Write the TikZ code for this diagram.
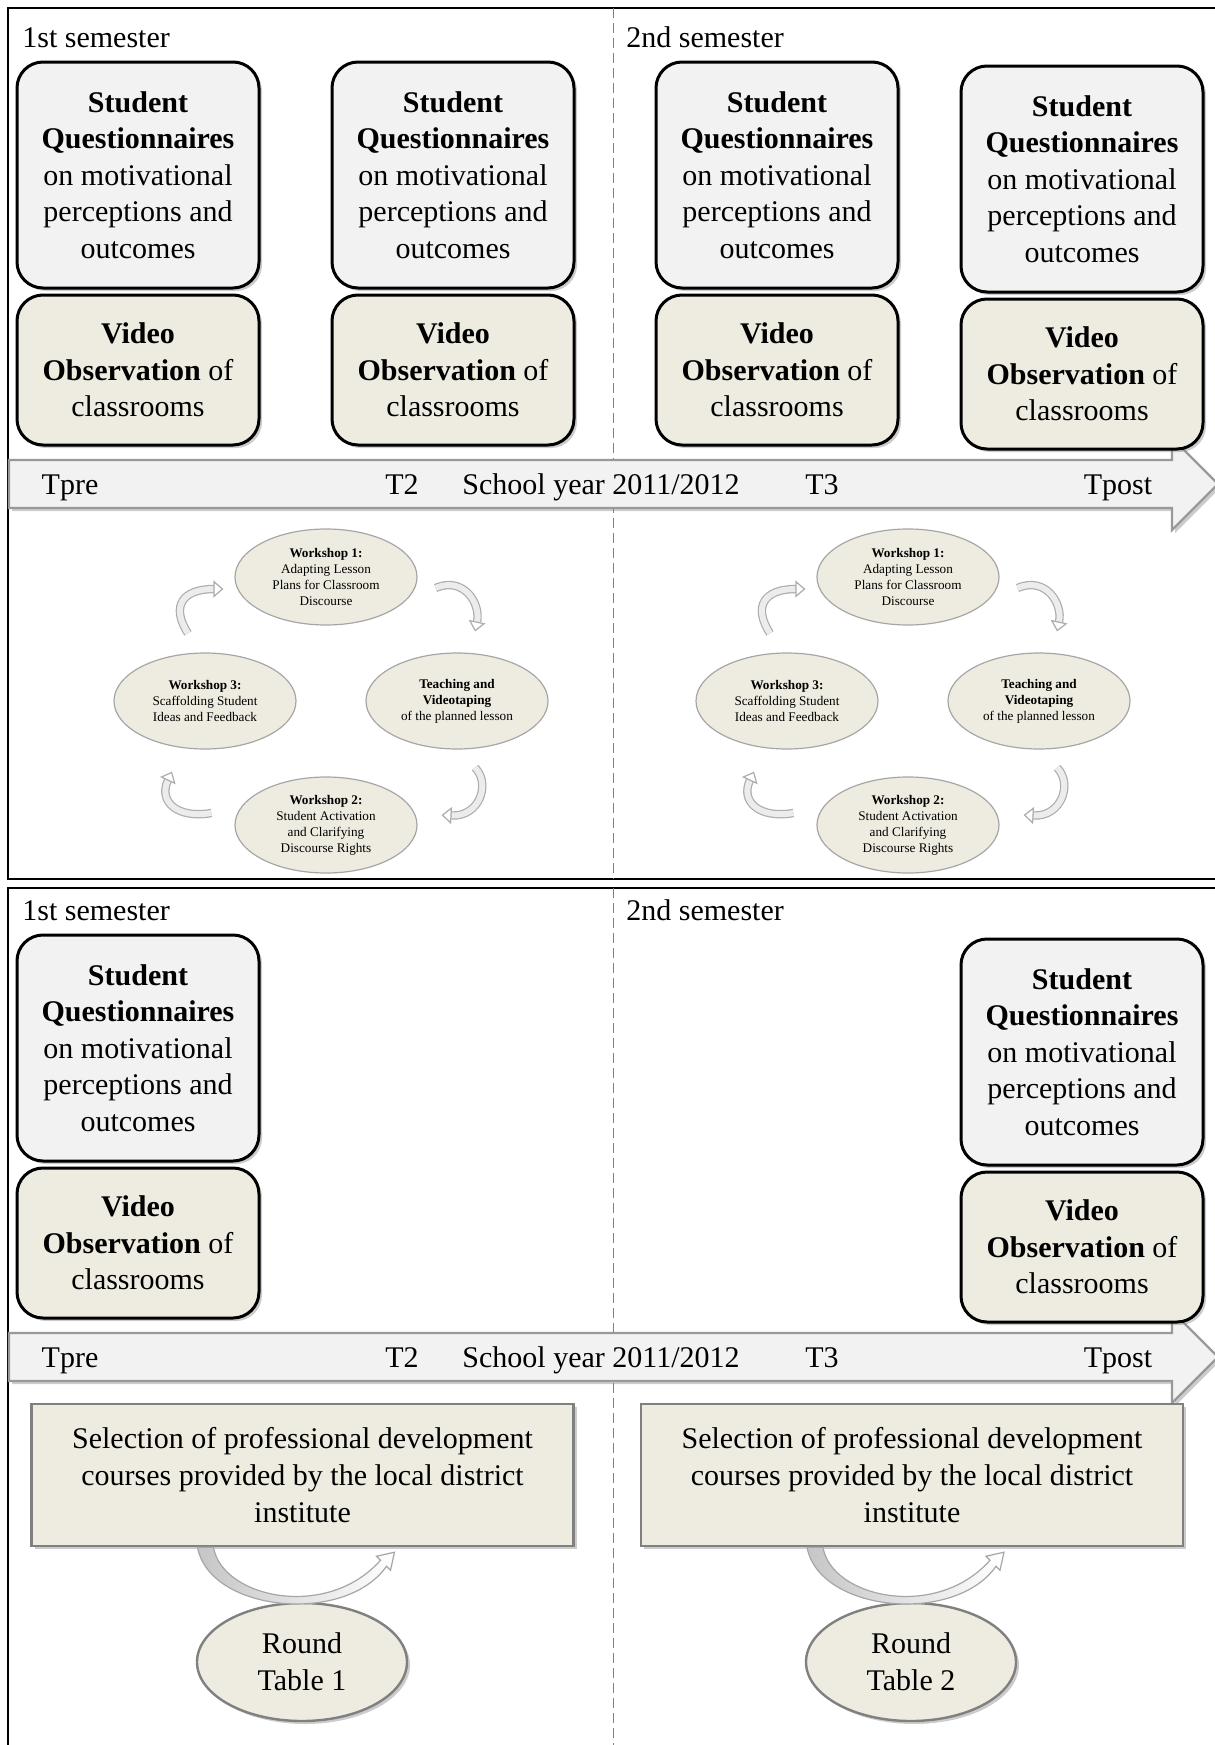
\documentclass[tikz,border=0pt]{standalone}
\usepackage{fontspec}
\setmainfont{Liberation Serif}
\usetikzlibrary{positioning,calc,shapes.geometric,shadows,arrows.meta}
\definecolor{qgray}{HTML}{F2F2F2}
\definecolor{vtan}{HTML}{EEECE1}
\newcommand\bodyfont{\fontsize{15}{18.3}\selectfont}
\newcommand\wsfont{\fontsize{6.6}{8}\selectfont}
\newcommand\questtext{\textbf{Student}\\\textbf{Questionnaires}\\on motivational\\perceptions and\\outcomes}
\newcommand\videotext{\textbf{Video}\\\textbf{Observation} of\\classrooms}
\newcommand\seltext{Selection of professional development\\courses provided by the local district\\institute}

\begin{document}
\begin{tikzpicture}[x=0.5pt,y=-0.5pt,
    boxshadow/.style={drop shadow={shadow xshift=1.5pt,shadow yshift=-1.5pt,opacity=.4}},
    qbox/.style={draw,line width=1.5pt,rounded corners=13pt,fill=qgray,
      minimum width=121pt,minimum height=113pt,inner sep=0pt,align=center,
      font=\bodyfont,boxshadow},
    vbox/.style={qbox,fill=vtan,minimum height=75pt},
    sem/.style={anchor=base west,inner sep=0pt,font=\bodyfont},
    tlabel/.style={anchor=base,inner sep=0pt,font=\bodyfont},
    tline/.style={fill=qgray,draw=gray!80,line width=1.2pt,boxshadow},
    frame/.style={line width=1pt},
    divider/.style={gray,line width=0.5pt,dash pattern=on 5pt off 2.5pt},
    ws/.style={ellipse,draw=gray!70,fill=vtan,line width=0.6pt,minimum width=91pt,
      minimum height=48pt,inner sep=0pt,align=center,font=\wsfont},
    cyc/.style={draw=gray!65,line width=0.6pt,double=gray!15,double distance=3pt,
      -{Triangle[length=5pt,width=8.5pt,fill=white]}},
    selbox/.style={draw=gray,fill=vtan,line width=1.2pt,minimum width=271pt,
      minimum height=71pt,align=center,font=\bodyfont,boxshadow},
    rtable/.style={ellipse,draw=gray,fill=vtan,line width=1.2pt,minimum width=105pt,
      minimum height=59pt,align=center,font=\bodyfont,boxshadow},
    loopar/.style={draw=gray!70,line width=0.6pt,left color=gray!45,right color=white},
   ]
   \useasboundingbox (0,0) rectangle (1215,1745);
   \draw[frame] (1225,8) -- (8,8) -- (8,879) -- (1225,879);
   \draw[divider] (613,8) -- (613,879);
   \node[sem] (sem1) at (22,47) {1st semester};
   \node[sem] (sem2) at (626,47) {2nd semester};
   \draw[tline] (9,460) -- (1172,460) -- (1172,438) -- (1218,484) -- (1172,530)
     -- (1172,508) -- (9,508) -- cycle;
   \node[tlabel] (tpre) at (70,494) {Tpre};
   \node[tlabel] (t2) at (402,494) {T2};
   \node[tlabel] (year) at (601,494) {School year 2011/2012};
   \node[tlabel] (t3) at (822,494) {T3};
   \node[tlabel] (tpost) at (1118,494) {Tpost};
   \foreach \n/\x/\y in {1/138/175,2/453/175,3/777/175,4/1082/179}{
     \node[qbox] (q\n) at (\x,\y) {\questtext};
     \node[vbox,below=2pt of q\n] (v\n) {\videotext};
   }
   \foreach \s/\dx in {a/0,b/582}{
     \begin{scope}[shift={(\dx,0)}]
       \node[ws] (w1\s) at (326,577) {\textbf{Workshop 1:}\\Adapting Lesson\\Plans for Classroom\\Discourse};
       \node[ws] (tv\s) at (457,701) {\textbf{Teaching and}\\\textbf{Videotaping}\\of the planned lesson};
       \node[ws] (w3\s) at (205,701) {\textbf{Workshop 3:}\\Scaffolding Student\\Ideas and Feedback};
       \node[ws] (w2\s) at (326,825) {\textbf{Workshop 2:}\\Student Activation\\and Clarifying\\Discourse Rights};
       \draw[cyc] ($(w1\s.east)+(18,11)$) .. controls +(28,-12) and +(6,-28) .. ($(tv\s.north)+(18,-21)$);
       \draw[cyc] ($(tv\s.south)+(18,18)$) .. controls +(16,16) and +(38,2) .. ($(w2\s.east)+(24,-10)$);
       \draw[cyc] ($(w2\s.west)+(-23,-12)$) .. controls +(-34,6) and +(-14,30) .. ($(w3\s.south)+(-33,22)$);
       \draw[cyc] ($(w3\s.north)+(-17,-19)$) .. controls +(-18,-28) and +(-40,0) .. ($(w1\s.west)+(-11,12)$);
     \end{scope}
   }
   \begin{scope}[shift={(0,873)}]
     \draw[frame] (1225,15) -- (8,15) -- (8,880);
     \draw[divider] (613,15) -- (613,880);
     \node[sem] (sem3) at (22,47) {1st semester};
     \node[sem] (sem4) at (626,47) {2nd semester};
     \draw[tline] (9,460) -- (1172,460) -- (1172,438) -- (1218,484) -- (1172,530)
       -- (1172,508) -- (9,508) -- cycle;
     \node[tlabel] (tpre2) at (70,494) {Tpre};
     \node[tlabel] (t22) at (402,494) {T2};
     \node[tlabel] (year2) at (601,494) {School year 2011/2012};
     \node[tlabel] (t32) at (822,494) {T3};
     \node[tlabel] (tpost2) at (1118,494) {Tpost};
     \foreach \n/\x/\y in {5/138/175,6/1082/179}{
       \node[qbox] (q\n) at (\x,\y) {\questtext};
       \node[vbox,below=2pt of q\n] (v\n) {\videotext};
     }
     \node[selbox] (sel1) at (302.5,602) {\seltext};
     \node[selbox] (sel2) at (912,602) {\seltext};
     \node[rtable] (rt1) at (302,789) {Round\\Table 1};
     \node[rtable] (rt2) at (911,789) {Round\\Table 2};
     \foreach \s in {1,2}
       \draw[loopar] ($(sel\s.south)+(-105,0)$) .. controls +(12,65) and +(-41,59) .. ($(sel\s.south)+(84,19)$)
         -- ++(4,4) -- ++(4,-18) -- ++(-18,4) -- ++(4,4)
         .. controls +(-54,61) and +(8,50) .. ($(sel\s.south)+(-89,0)$) -- cycle;
   \end{scope}
\end{tikzpicture}
\end{document}
